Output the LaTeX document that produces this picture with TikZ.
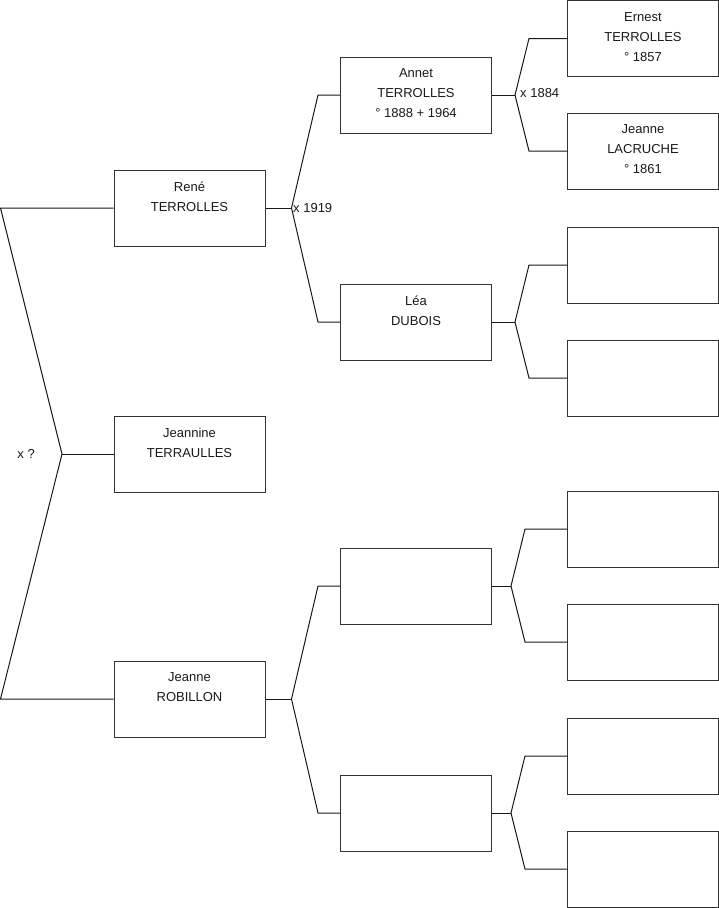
\documentclass[tikz,border=0pt]{standalone}
\usepackage{fontspec}
\setmainfont{Liberation Sans}
\usetikzlibrary{positioning,calc}

\tikzset{
    person/.style={draw=black!80, line width=1pt, minimum width=151pt, minimum height=76pt, inner sep=0pt},
    who/.style={font=\fontsize{13}{20}\selectfont, text=black!90, align=center, inner sep=0pt, execute at begin node={\strut}},
    link/.style={draw=black!90, line width=1pt},
    wed/.style={font=\fontsize{13}{20}\selectfont, text=black!90, inner sep=0pt}
}

\begin{document}
\begin{tikzpicture}[x=1pt, y=-1pt]
    \useasboundingbox (0,0) rectangle (719,908);

    % Children
    \node[person] (rene) at (189.5, 208) {};
    \node[person] (jeannine) at (189.5, 454) {};
    \node[person] (robillon) at (189.5, 699) {};
    \node[who, below=12pt of rene.north] (rene-t) {René\\TERROLLES};
    \node[who, below=12pt of jeannine.north] (jeannine-t) {Jeannine\\TERRAULLES};
    \node[who, below=12pt of robillon.north] (robillon-t) {Jeanne\\ROBILLON};

    % Parents
    \node[person] (annet) at (416, 95) {};
    \node[person] (lea) at (416, 322) {};
    \node[person] (robpa) at (416, 586) {};
    \node[person] (robma) at (416, 813) {};
    \node[who, below=12pt of annet.north] (annet-t) {Annet\\TERROLLES\\° 1888 + 1964};
    \node[who, below=12pt of lea.north] (lea-t) {Léa\\DUBOIS};

    % Grandparents
    \node[person] (ernest) at (643, 38.5) {};
    \node[person] (lacruche) at (643, 151) {};
    \node[person] (leapa) at (643, 265) {};
    \node[person] (leama) at (643, 378) {};
    \node[person] (robpapa) at (643, 529) {};
    \node[person] (robpama) at (643, 642) {};
    \node[person] (robmapa) at (643, 756) {};
    \node[person] (robmama) at (643, 869) {};
    \node[who, below=12pt of ernest.north] (ernest-t) {Ernest\\TERROLLES\\° 1857};
    \node[who, below=12pt of lacruche.north] (lacruche-t) {Jeanne\\LACRUCHE\\° 1861};

    % Forks
    \coordinate (f0) at (62, 454);
    \coordinate (f1) at ($(rene.east)+(26,0)$);
    \coordinate (f2) at ($(robillon.east)+(26,0)$);
    \coordinate (f3) at ($(annet.east)+(23,0)$);
    \coordinate (f4) at ($(lea.east)+(23,0)$);
    \coordinate (f5) at ($(robpa.east)+(19,0)$);
    \coordinate (f6) at ($(robma.east)+(19,0)$);

    % Siblings
    \draw[link] (rene.west) -- ++(-113,0) -- (f0) -- ($(robillon.west)+(-113,0)$) -- (robillon.west);
    \draw[link] (f0) -- (jeannine.west);
    \node[wed, left=27pt of f0] (wed0) {x ?};

    % Rene's parents
    \draw[link] (rene.east) -- (f1);
    \draw[link] (annet.west) -- ++(-22,0) -- (f1) -- ($(lea.west)+(-22,0)$) -- (lea.west);
    \node[wed, right=1.5pt of f1] (wed1) {x 1919};

    % Jeanne's parents
    \draw[link] (robillon.east) -- (f2);
    \draw[link] (robpa.west) -- ++(-22,0) -- (f2) -- ($(robma.west)+(-22,0)$) -- (robma.west);

    % Annet's parents
    \draw[link] (annet.east) -- (f3);
    \draw[link] (ernest.west) -- ++(-38,0) -- (f3) -- ($(lacruche.west)+(-38,0)$) -- (lacruche.west);
    \node[wed, right=5pt of f3, yshift=2pt] (wed3) {x 1884};

    % Lea's parents
    \draw[link] (lea.east) -- (f4);
    \draw[link] (leapa.west) -- ++(-38,0) -- (f4) -- ($(leama.west)+(-38,0)$) -- (leama.west);

    % Robillon side
    \draw[link] (robpa.east) -- (f5);
    \draw[link] (robpapa.west) -- ++(-42,0) -- (f5) -- ($(robpama.west)+(-42,0)$) -- (robpama.west);
    \draw[link] (robma.east) -- (f6);
    \draw[link] (robmapa.west) -- ++(-42,0) -- (f6) -- ($(robmama.west)+(-42,0)$) -- (robmama.west);
\end{tikzpicture}
\end{document}
